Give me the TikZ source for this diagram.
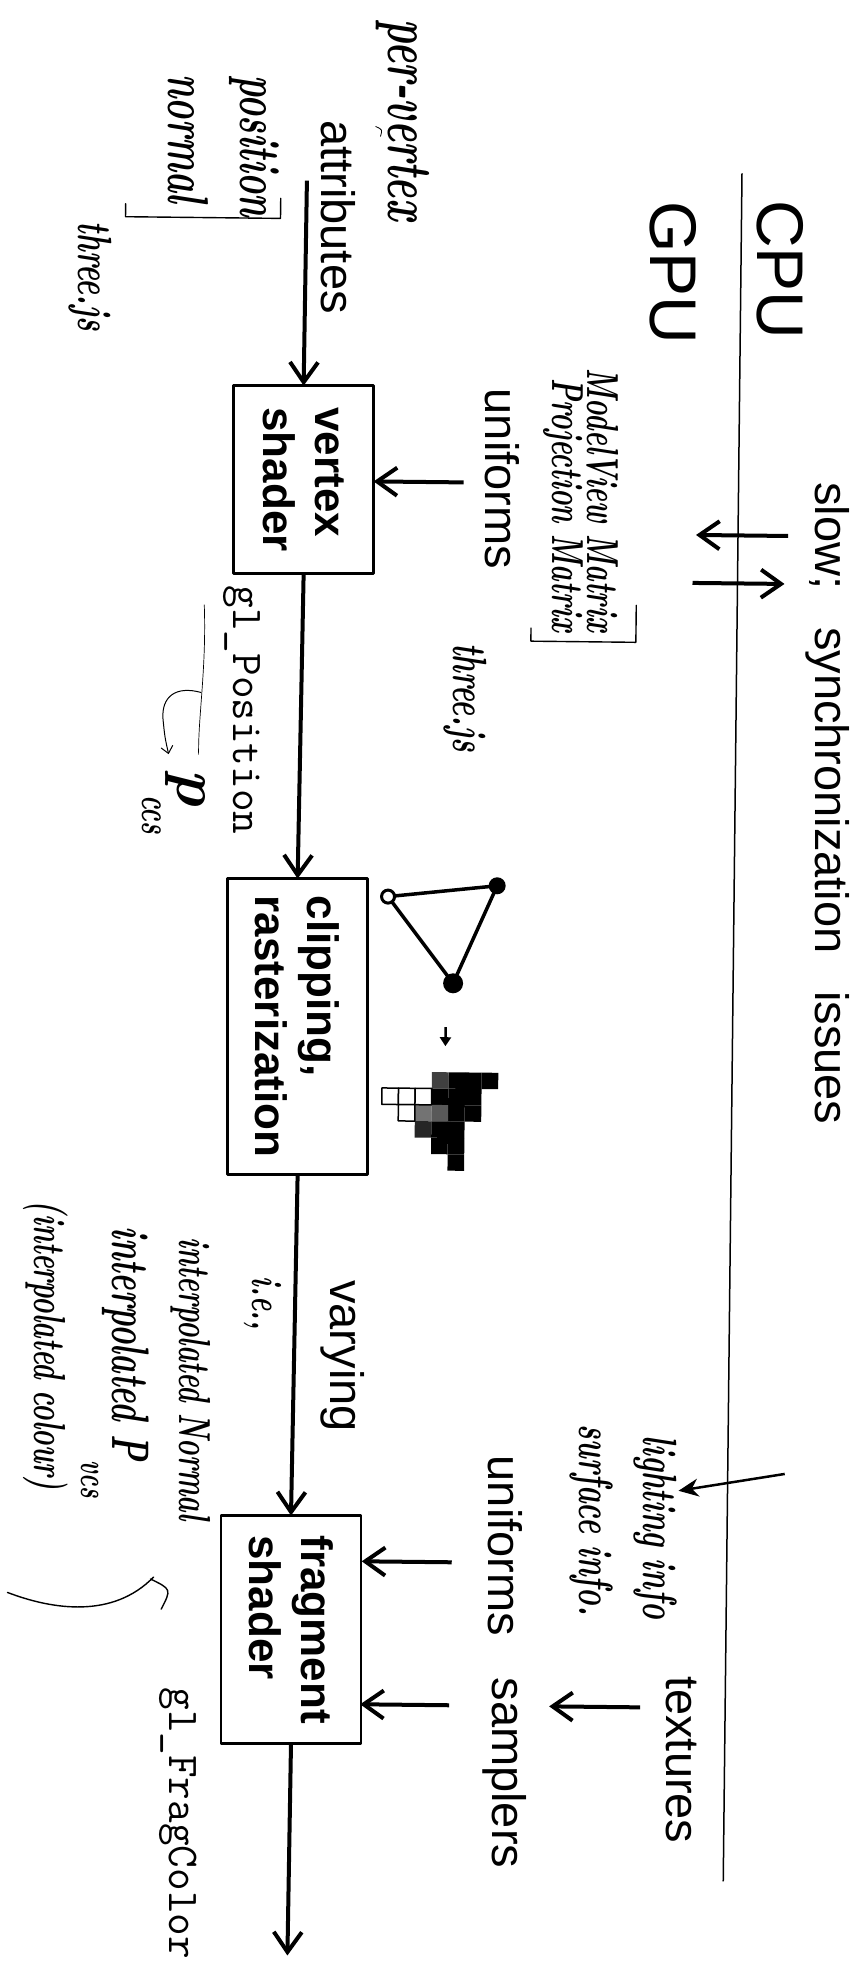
\documentclass[tikz,border=0pt]{standalone}
\usepackage{fontspec}
\newfontfamily\sansfont{Liberation Sans}
\usetikzlibrary{arrows.meta}
% handwriting: tall, heavy italic strokes
\newcommand{\hw}[1]{\scalebox{1}[1.6]{#1}}

\begin{document}
\begin{tikzpicture}[x=1pt,y=-1pt,line join=round,
  every node/.style={inner sep=0pt,outer sep=0pt},
  lbl/.style={font=\sansfont\fontsize{47}{54}\selectfont,rotate=-90},
  big/.style={font=\sansfont\fontsize{66}{70}\selectfont,rotate=-90},
  mono/.style={font=\ttfamily\fontsize{44}{50}\selectfont,rotate=-90},
  hand/.style={font=\bfseries\itshape\fontsize{#1}{#1}\selectfont,rotate=-90},
  stage/.style={draw,line width=2.5pt,rotate=-90,minimum height=140pt,
    align=left,font=\sansfont\bfseries\fontsize{44}{52}\selectfont},
  flow/.style={line width=4pt,-{Straight Barb[length=20pt,width=28pt]}},
  pen/.style={line width=1.4pt,line cap=round}]

\fill[white] (0,0) rectangle (849,1986);
\useasboundingbox (0,0) rectangle (849,1986);

\begin{scope}[rotate around={-0.63:(425,993)}]

% CPU / GPU split
\node[big] (cpu) at (772,266) {CPU};
\node[big] (gpu) at (665,270) {GPU};
\coordinate (sepTop) at (733,170);
\coordinate (sepBot) at (733,1878);
\draw[line width=1.5pt] (sepTop) -- (sepBot);

\node[lbl,anchor=west] (slow) at (822,478)
  {slow;\hspace{0.8em}synchronization\hspace{0.8em}issues};
\coordinate (sA1) at (783,532);
\coordinate (sA2) at (691,532);
\coordinate (sB1) at (688,580);
\coordinate (sB2) at (780,580);
\draw[flow] (sA1) -- (sA2);
\draw[flow] (sB1) -- (sB2);

% pipeline stages
\node[stage,minimum width=188pt] (vs) at (298,481) {vertex\\shader};
\node[stage,minimum width=296pt] (clip) at (298,1028) {clipping,\\rasterization};
\node[stage,minimum width=228pt] (fs) at (298,1631) {fragment\\shader};

\coordinate (attrIn) at (298,182);
\coordinate (fragOut) at (298,1957);
\draw[flow] (attrIn) -- (vs.west);
\draw[flow] (vs.east) -- (clip.west);
\draw[flow] (clip.east) -- (fs.west);
\draw[flow] (fs.east) -- (fragOut);

% inputs and outputs
\node[lbl] (attr) at (330,218) {attributes};
\node[lbl] (uni1) at (497,478) {uniforms};
\coordinate (u1) at (458,482);
\draw[flow] (u1) -- (u1 -| vs.north);

\node[mono] (glpos) at (239,712) {gl\_Position};
\node[lbl] (vary) at (347,1357) {varying};

\node[lbl] (uni2) at (511,1545) {uniforms};
\coordinate (u2) at (458,1562);
\draw[flow] (u2) -- (u2 -| fs.north);
\node[lbl] (samp) at (513,1772) {samplers};
\coordinate (u3) at (457,1705);
\draw[flow] (u3) -- (u3 -| fs.north);
\node[lbl] (tex) at (690,1757) {textures};
\coordinate (t1) at (648,1705);
\coordinate (t2) at (557,1705);
\draw[flow] (t1) -- (t2);

\node[mono] (glfrag) at (187,1826) {gl\_FragColor};

% triangle and its rasterized pixels
\coordinate (tA) at (387,897);
\coordinate (tB) at (496,885);
\coordinate (tC) at (453,983);
\draw[line width=3.5pt] (tA) -- (tB) -- (tC) -- cycle;
\fill (tB) circle[radius=8.5pt];
\fill (tC) circle[radius=10pt];
\draw[line width=3pt,fill=white] (tA) circle[radius=6.5pt];
\coordinate (rA) at (446,1027);
\coordinate (rB) at (446,1046);
\draw[line width=2.5pt,-{Triangle[length=9pt,width=11pt]}] (rA) -- (rB);

\foreach \c/\r/\sh in {4/0/black,5/0/black,6/0/black,3/0/black!75,
    3/1/black,4/1/black,5/1/black,4/2/black,5/2/black,
    2/2/black!55,3/2/black!65,2/3/black!85,3/3/black,4/3/black,
    3/4/black,4/4/black,4/5/black}
  \fill[\sh] ({383+16.6*\c},{1072+16.4*\r}) rectangle ++(16.6,16.4);
\foreach \c/\r in {0/1,1/1,2/1,1/2}
  \draw[line width=1.5pt,fill=white] ({383+16.6*\c},{1072+16.4*\r}) rectangle ++(16.6,16.4);

% handwritten notes
\node[hand=40,anchor=west] (pv) at (392,20) {\hw{per-vertex}};
\draw[line width=0.8pt] (366,127) .. controls (373,130) .. (371,137);
\node[hand=36,anchor=west] (posn) at (244,77) {\hw{position}};
\node[hand=36,anchor=west] (norm) at (178,77) {\hw{normal}};
\draw[pen] (117,207) -- (117,220) -- (272,220) -- (272,200);
\node[hand=30] (tj1) at (82,280) {\hw{three.js}};

\node[hand=28,anchor=west] (mv) at (596,367) {\hw{ModelView Matrix}};
\node[hand=28,anchor=west] (pm) at (557,377) {\hw{Projection Matrix}};
\draw[pen] (527,627) -- (527,640) -- (632,640) -- (632,603);
\node[hand=30] (tj2) at (462,697) {\hw{three.js}};

\coordinate (pA) at (200,607);
\coordinate (pB) at (196,757);
\coordinate (pC) at (198,695);
\coordinate (pD) at (166,757);
\draw[line width=0.7pt] (pA) .. controls (203,670) and (195,720) .. (pB);
\draw[line width=1pt,-{Straight Barb[length=7pt,width=12pt]}]
  (pC) .. controls (172,688) and (158,700) .. (160,722) .. controls (162,740) .. (pD);
\node[hand=62] (pccs) at (183,790) {p};
\node[hand=26] (ccs) at (150,818) {\hw{ccs}};

\node[hand=27] (ie) at (266,1305) {\hw{i.e.,}};
\node[hand=28,anchor=west] (iN) at (193,1240) {\hw{interpolated Normal}};
\node[hand=33,anchor=west] (iP) at (128,1230) {\hw{interpolated P}};
\node[hand=24] (vcs) at (95,1483) {\hw{vcs}};
\node[hand=28,anchor=west] (iC) at (48,1205) {\hw{(interpolated colour)}};

\coordinate (swA) at (14,1597);
\coordinate (swB) at (160,1580);
\draw[pen] (swA) .. controls (60,1614) and (120,1622) .. (swB);
\draw[pen] (157,1582) .. controls (178,1592) .. (168,1612);

\node[hand=30,anchor=west] (li) at (660,1433) {\hw{lighting info}};
\node[hand=30,anchor=west] (si) at (596,1423) {\hw{surface info.}};
\coordinate (hA) at (790,1470);
\coordinate (hB) at (684,1488);
\draw[line width=2.5pt,-{Stealth[length=20pt,width=18pt]}] (hA) -- (hB);

\end{scope}
\end{tikzpicture}
\end{document}
